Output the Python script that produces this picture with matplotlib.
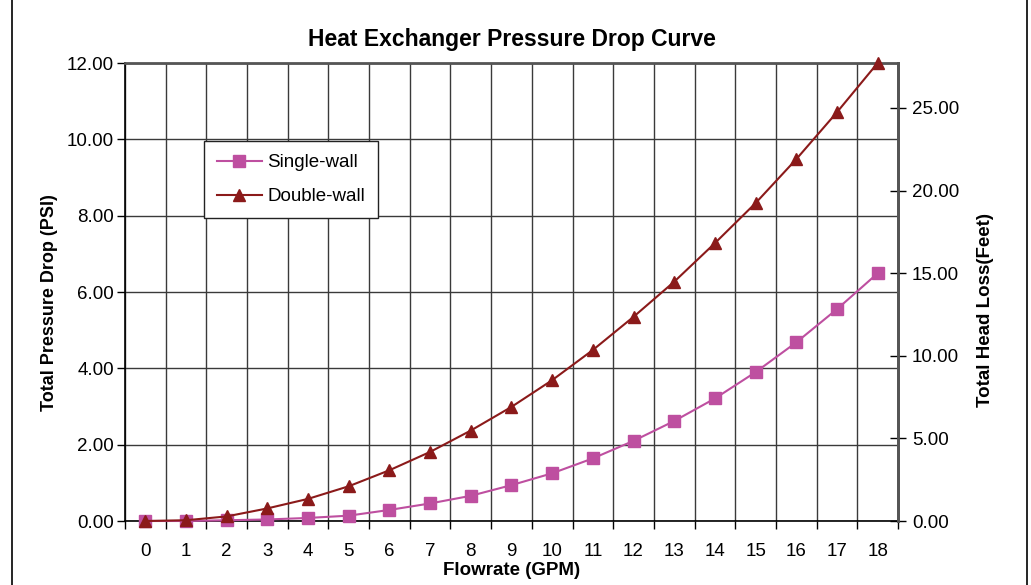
import matplotlib
matplotlib.use('Agg')
import matplotlib.pyplot as plt
import numpy as np

plt.rcParams['font.family'] = ['Liberation Sans', 'DejaVu Sans']

# Data
flowrate = list(range(0, 19))
single_wall = [0.00, 0.00, 0.02, 0.04, 0.08, 0.14, 0.29, 0.46, 0.66, 0.94, 1.25, 1.64,
               2.10, 2.62, 3.21, 3.90, 4.68, 5.55, 6.49]
double_wall = [0.00, 0.02, 0.12, 0.33, 0.58, 0.91, 1.33, 1.81, 2.37, 2.99, 3.69, 4.48,
               5.35, 6.27, 7.28, 8.33, 9.48, 10.71, 12.00]
psi_to_feet = 2.31

title = 'Heat Exchanger Pressure Drop Curve'
x_label = 'Flowrate (GPM)'
y_label = 'Total Pressure Drop (PSI)'
y2_label = 'Total Head Loss(Feet)'

fig = plt.figure(figsize=(10.31, 5.85), dpi=100)
ax = fig.add_axes([0.1212, 0.1094, 0.7498, 0.7829])

grid_col = '#3a3a3a'
ax.plot(flowrate, single_wall, color='#BE4FA0', marker='s', markersize=9,
        linewidth=1.5, label='Single-wall', zorder=3, clip_on=False)
ax.plot(flowrate, double_wall, color='#8B1A1A', marker='^', markersize=9,
        linewidth=1.5, label='Double-wall', zorder=3, clip_on=False)

# category style x axis: ticks at boundaries, labels at centers
ax.set_xlim(-0.5, 18.5)
ax.set_xticks(np.arange(-0.5, 19, 1.0))
ax.set_xticklabels([])
ax.set_xticks(flowrate, minor=True)
ax.set_xticklabels([str(v) for v in flowrate], minor=True)
ax.tick_params(axis='x', which='major', direction='out', length=6, width=1, color='black')
ax.tick_params(axis='x', which='minor', length=0, pad=16, labelsize=13.5)
ax.xaxis.grid(True, which='major', color=grid_col, linewidth=1)

ax.set_ylim(0, 12)
ax.set_yticks(np.arange(0, 13, 2))
ax.set_yticklabels([f'{v:.2f}' for v in np.arange(0, 13, 2)])
ax.tick_params(axis='y', direction='out', length=6, width=1, labelsize=13.5, pad=2)
ax.yaxis.grid(True, color=grid_col, linewidth=1)
ax.set_axisbelow(True)

for side in ['left', 'bottom']:
    ax.spines[side].set_color('black')
    ax.spines[side].set_linewidth(1.2)
for side in ['top', 'right']:
    ax.spines[side].set_color('#555555')
    ax.spines[side].set_linewidth(2)

ax2 = ax.twinx()
ax2.set_ylim(0, 12 * psi_to_feet)
feet_ticks = np.arange(0, 26, 5)
ax2.set_yticks(feet_ticks)
ax2.set_yticklabels([f'{v:.2f}' for v in feet_ticks])
ax2.tick_params(axis='y', direction='inout', length=12, width=1, labelsize=13.5, pad=4)
ax2.spines['right'].set_color('#555555')
ax2.spines['right'].set_linewidth(2)
for side in ['left', 'top', 'bottom']:
    ax2.spines[side].set_visible(False)

ax.set_title(title, fontsize=16.5, fontweight='bold', pad=12)
ax.set_xlabel(x_label, fontsize=13.5, fontweight='bold', labelpad=1)
ax.set_ylabel(y_label, fontsize=13, fontweight='bold')
ax2.set_ylabel(y2_label, fontsize=13.5, fontweight='bold')
ax.yaxis.set_label_coords(-0.097, 0.478)
ax.yaxis.label.set_verticalalignment('center')
ax2.yaxis.set_label_coords(1.1126, 0.461)
ax2.yaxis.label.set_verticalalignment('center')

leg = ax.legend(loc='upper left', bbox_to_anchor=(0.102, 0.83), fontsize=13.5,
                frameon=True, fancybox=False, shadow=False, borderpad=0.7,
                labelspacing=0.9, handlelength=2.4, handletextpad=0.3,
                markerscale=1.0, borderaxespad=0)
leg.get_frame().set_edgecolor('#222222')
leg.get_frame().set_linewidth(1)
leg.get_frame().set_alpha(1)

# outer chart border
fig.add_artist(plt.Line2D([0.0116, 0.0116], [0, 1], color='black', linewidth=1.2,
                          transform=fig.transFigure))
fig.add_artist(plt.Line2D([0.996, 0.996], [0, 1], color='black', linewidth=1.2,
                          transform=fig.transFigure))

fig.savefig('out.png', dpi=100, facecolor='white')
plt.close(fig)
